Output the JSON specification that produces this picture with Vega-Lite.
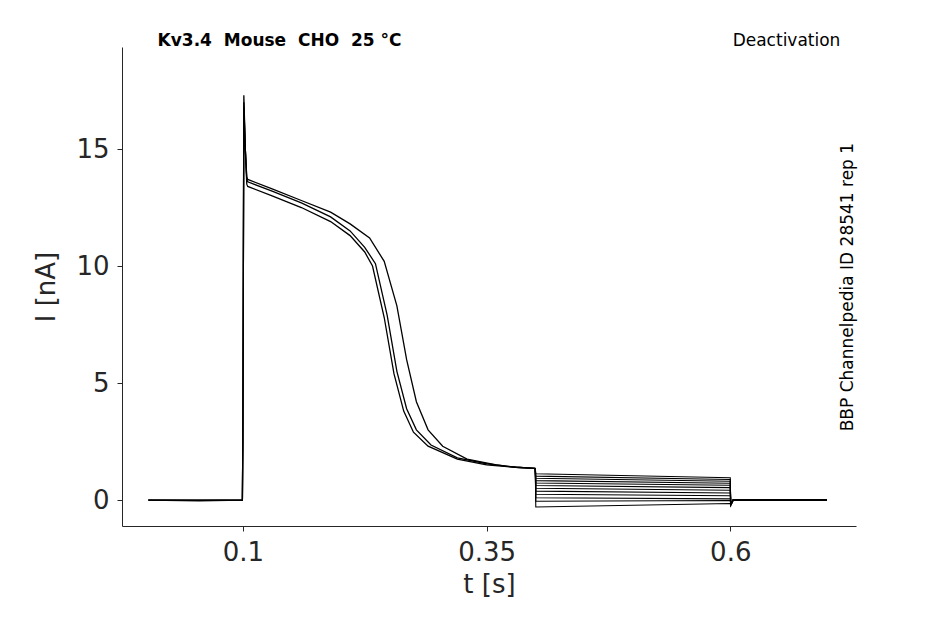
{
  "$schema": "https://vega.github.io/schema/vega-lite/v6.json",
  "width": 734,
  "height": 479,
  "autosize": "none",
  "padding": {"left": 122, "top": 47, "right": 89, "bottom": 98},
  "background": "white",
  "config": {"view": {"stroke": null}, "font": "DejaVu Sans"},
  "datasets": {
    "act": [
      {"s": "a", "t": 0.003, "I": 0}, {"s": "a", "t": 0.055, "I": -0.03}, {"s": "a", "t": 0.0995, "I": 0},
      {"s": "a", "t": 0.1, "I": 2.5}, {"s": "a", "t": 0.1005, "I": 10}, {"s": "a", "t": 0.101, "I": 17.3},
      {"s": "a", "t": 0.1025, "I": 15}, {"s": "a", "t": 0.104, "I": 13.5}, {"s": "a", "t": 0.105, "I": 13.4},
      {"s": "a", "t": 0.13, "I": 13.0}, {"s": "a", "t": 0.16, "I": 12.5}, {"s": "a", "t": 0.19, "I": 11.9},
      {"s": "a", "t": 0.21, "I": 11.3}, {"s": "a", "t": 0.225, "I": 10.6}, {"s": "a", "t": 0.233, "I": 10},
      {"s": "a", "t": 0.245, "I": 7.8}, {"s": "a", "t": 0.255, "I": 5.4}, {"s": "a", "t": 0.265, "I": 3.8},
      {"s": "a", "t": 0.275, "I": 2.9}, {"s": "a", "t": 0.29, "I": 2.3}, {"s": "a", "t": 0.32, "I": 1.75},
      {"s": "a", "t": 0.35, "I": 1.5}, {"s": "a", "t": 0.38, "I": 1.4}, {"s": "a", "t": 0.4, "I": 1.35},
      {"s": "b", "t": 0.003, "I": 0}, {"s": "b", "t": 0.0995, "I": 0},
      {"s": "b", "t": 0.1, "I": 2.5}, {"s": "b", "t": 0.1005, "I": 10}, {"s": "b", "t": 0.101, "I": 17.0},
      {"s": "b", "t": 0.1025, "I": 15}, {"s": "b", "t": 0.104, "I": 13.7}, {"s": "b", "t": 0.105, "I": 13.6},
      {"s": "b", "t": 0.13, "I": 13.2}, {"s": "b", "t": 0.16, "I": 12.7}, {"s": "b", "t": 0.19, "I": 12.1},
      {"s": "b", "t": 0.21, "I": 11.5}, {"s": "b", "t": 0.225, "I": 10.8}, {"s": "b", "t": 0.236, "I": 10.1},
      {"s": "b", "t": 0.248, "I": 7.9}, {"s": "b", "t": 0.258, "I": 5.5}, {"s": "b", "t": 0.268, "I": 3.9},
      {"s": "b", "t": 0.278, "I": 3.0}, {"s": "b", "t": 0.293, "I": 2.35}, {"s": "b", "t": 0.32, "I": 1.8},
      {"s": "b", "t": 0.35, "I": 1.55}, {"s": "b", "t": 0.38, "I": 1.4}, {"s": "b", "t": 0.4, "I": 1.35},
      {"s": "c", "t": 0.003, "I": 0}, {"s": "c", "t": 0.0995, "I": 0},
      {"s": "c", "t": 0.1, "I": 2.5}, {"s": "c", "t": 0.1005, "I": 10}, {"s": "c", "t": 0.101, "I": 16.8},
      {"s": "c", "t": 0.1025, "I": 15}, {"s": "c", "t": 0.104, "I": 13.8}, {"s": "c", "t": 0.105, "I": 13.7},
      {"s": "c", "t": 0.13, "I": 13.3}, {"s": "c", "t": 0.16, "I": 12.8}, {"s": "c", "t": 0.19, "I": 12.3},
      {"s": "c", "t": 0.21, "I": 11.8}, {"s": "c", "t": 0.23, "I": 11.2}, {"s": "c", "t": 0.245, "I": 10.2},
      {"s": "c", "t": 0.258, "I": 8.3}, {"s": "c", "t": 0.268, "I": 6.0}, {"s": "c", "t": 0.278, "I": 4.2},
      {"s": "c", "t": 0.29, "I": 3.0}, {"s": "c", "t": 0.305, "I": 2.3}, {"s": "c", "t": 0.33, "I": 1.75},
      {"s": "c", "t": 0.36, "I": 1.5}, {"s": "c", "t": 0.38, "I": 1.4}, {"s": "c", "t": 0.4, "I": 1.35}
    ],
    "deact": [
      {"s": 1, "t": 0.4, "I": 1.35}, {"s": 1, "t": 0.4005, "I": -0.3}, {"s": 1, "t": 0.6, "I": -0.15}, {"s": 1, "t": 0.6005, "I": -0.25}, {"s": 1, "t": 0.603, "I": 0}, {"s": 1, "t": 0.699, "I": 0},
      {"s": 2, "t": 0.4, "I": 1.35}, {"s": 2, "t": 0.4005, "I": -0.05}, {"s": 2, "t": 0.6, "I": -0.02}, {"s": 2, "t": 0.6005, "I": -0.2}, {"s": 2, "t": 0.603, "I": 0}, {"s": 2, "t": 0.699, "I": 0},
      {"s": 3, "t": 0.4, "I": 1.35}, {"s": 3, "t": 0.4005, "I": 0.1}, {"s": 3, "t": 0.6, "I": 0.05}, {"s": 3, "t": 0.6005, "I": -0.2}, {"s": 3, "t": 0.603, "I": 0}, {"s": 3, "t": 0.699, "I": 0},
      {"s": 4, "t": 0.4, "I": 1.35}, {"s": 4, "t": 0.4005, "I": 0.25}, {"s": 4, "t": 0.6, "I": 0.18}, {"s": 4, "t": 0.6005, "I": -0.2}, {"s": 4, "t": 0.603, "I": 0}, {"s": 4, "t": 0.699, "I": 0},
      {"s": 5, "t": 0.4, "I": 1.35}, {"s": 5, "t": 0.4005, "I": 0.38}, {"s": 5, "t": 0.6, "I": 0.3}, {"s": 5, "t": 0.6005, "I": -0.2}, {"s": 5, "t": 0.603, "I": 0}, {"s": 5, "t": 0.699, "I": 0},
      {"s": 6, "t": 0.4, "I": 1.35}, {"s": 6, "t": 0.4005, "I": 0.5}, {"s": 6, "t": 0.6, "I": 0.42}, {"s": 6, "t": 0.6005, "I": -0.2}, {"s": 6, "t": 0.603, "I": 0}, {"s": 6, "t": 0.699, "I": 0},
      {"s": 7, "t": 0.4, "I": 1.35}, {"s": 7, "t": 0.4005, "I": 0.62}, {"s": 7, "t": 0.6, "I": 0.53}, {"s": 7, "t": 0.6005, "I": -0.2}, {"s": 7, "t": 0.603, "I": 0}, {"s": 7, "t": 0.699, "I": 0},
      {"s": 8, "t": 0.4, "I": 1.35}, {"s": 8, "t": 0.4005, "I": 0.73}, {"s": 8, "t": 0.6, "I": 0.63}, {"s": 8, "t": 0.6005, "I": -0.2}, {"s": 8, "t": 0.603, "I": 0}, {"s": 8, "t": 0.699, "I": 0},
      {"s": 9, "t": 0.4, "I": 1.35}, {"s": 9, "t": 0.4005, "I": 0.83}, {"s": 9, "t": 0.6, "I": 0.72}, {"s": 9, "t": 0.6005, "I": -0.2}, {"s": 9, "t": 0.603, "I": 0}, {"s": 9, "t": 0.699, "I": 0},
      {"s": 10, "t": 0.4, "I": 1.35}, {"s": 10, "t": 0.4005, "I": 0.93}, {"s": 10, "t": 0.6, "I": 0.8}, {"s": 10, "t": 0.6005, "I": -0.2}, {"s": 10, "t": 0.603, "I": 0}, {"s": 10, "t": 0.699, "I": 0},
      {"s": 11, "t": 0.4, "I": 1.35}, {"s": 11, "t": 0.4005, "I": 1.02}, {"s": 11, "t": 0.6, "I": 0.88}, {"s": 11, "t": 0.6005, "I": -0.2}, {"s": 11, "t": 0.603, "I": 0}, {"s": 11, "t": 0.699, "I": 0},
      {"s": 12, "t": 0.4, "I": 1.35}, {"s": 12, "t": 0.4005, "I": 1.12}, {"s": 12, "t": 0.6, "I": 0.95}, {"s": 12, "t": 0.6005, "I": -0.2}, {"s": 12, "t": 0.603, "I": 0}, {"s": 12, "t": 0.699, "I": 0}
    ],
    "notes": [
      {"t": 0.0125, "I": 19.6, "label": "Kv3.4 \u00a0Mouse \u00a0CHO \u00a025 °C", "kind": "title"},
      {"t": 0.713, "I": 19.6, "label": "Deactivation", "kind": "right"},
      {"t": 0.7205, "I": 9.1, "label": "BBP Channelpedia ID 28541 rep 1", "kind": "side"}
    ]
  },
  "encoding": {
    "x": {"field": "t", "type": "quantitative",
      "scale": {"domain": [-0.024, 0.729], "nice": false, "zero": false},
      "axis": {"values": [0.1, 0.35, 0.6], "format": ".2~f", "grid": false, "title": "t [s]", "titleFontSize": 26, "titleFontWeight": "normal", "titleColor": "#262626",
        "labelFontSize": 26, "labelColor": "#262626", "labelPadding": 8, "tickSize": 5, "tickColor": "#262626", "domainColor": "#262626", "titlePadding": 6}},
    "y": {"field": "I", "type": "quantitative",
      "scale": {"domain": [-1.11, 19.36], "nice": false, "zero": false},
      "axis": {"values": [0, 5, 10, 15], "grid": false, "title": "I [nA]", "titleFontSize": 26, "titleFontWeight": "normal", "titleColor": "#262626",
        "labelFontSize": 26, "labelColor": "#262626", "labelPadding": 8, "tickSize": 5, "tickColor": "#262626", "domainColor": "#262626", "titlePadding": 16}}
  },
  "layer": [
    {"data": {"name": "act"}, "mark": {"type": "line", "color": "black", "strokeWidth": 1.3},
      "encoding": {"detail": {"field": "s"}, "order": {"field": "t", "type": "quantitative"}}},
    {"data": {"name": "deact"}, "mark": {"type": "line", "color": "black", "strokeWidth": 1.1},
      "encoding": {"detail": {"field": "s"}, "order": {"field": "t", "type": "quantitative"}}},
    {"data": {"name": "notes"}, "transform": [{"filter": "datum.kind == 'title'"}],
      "mark": {"type": "text", "align": "left", "fontSize": 17, "fontWeight": "bold", "clip": false, "color": "black"},
      "encoding": {"text": {"field": "label"}}},
    {"data": {"name": "notes"}, "transform": [{"filter": "datum.kind == 'right'"}],
      "mark": {"type": "text", "align": "right", "fontSize": 17, "clip": false, "color": "black"},
      "encoding": {"text": {"field": "label"}}},
    {"data": {"name": "notes"}, "transform": [{"filter": "datum.kind == 'side'"}],
      "mark": {"type": "text", "align": "center", "angle": 270, "fontSize": 17, "clip": false, "color": "black"},
      "encoding": {"text": {"field": "label"}}}
  ]
}
